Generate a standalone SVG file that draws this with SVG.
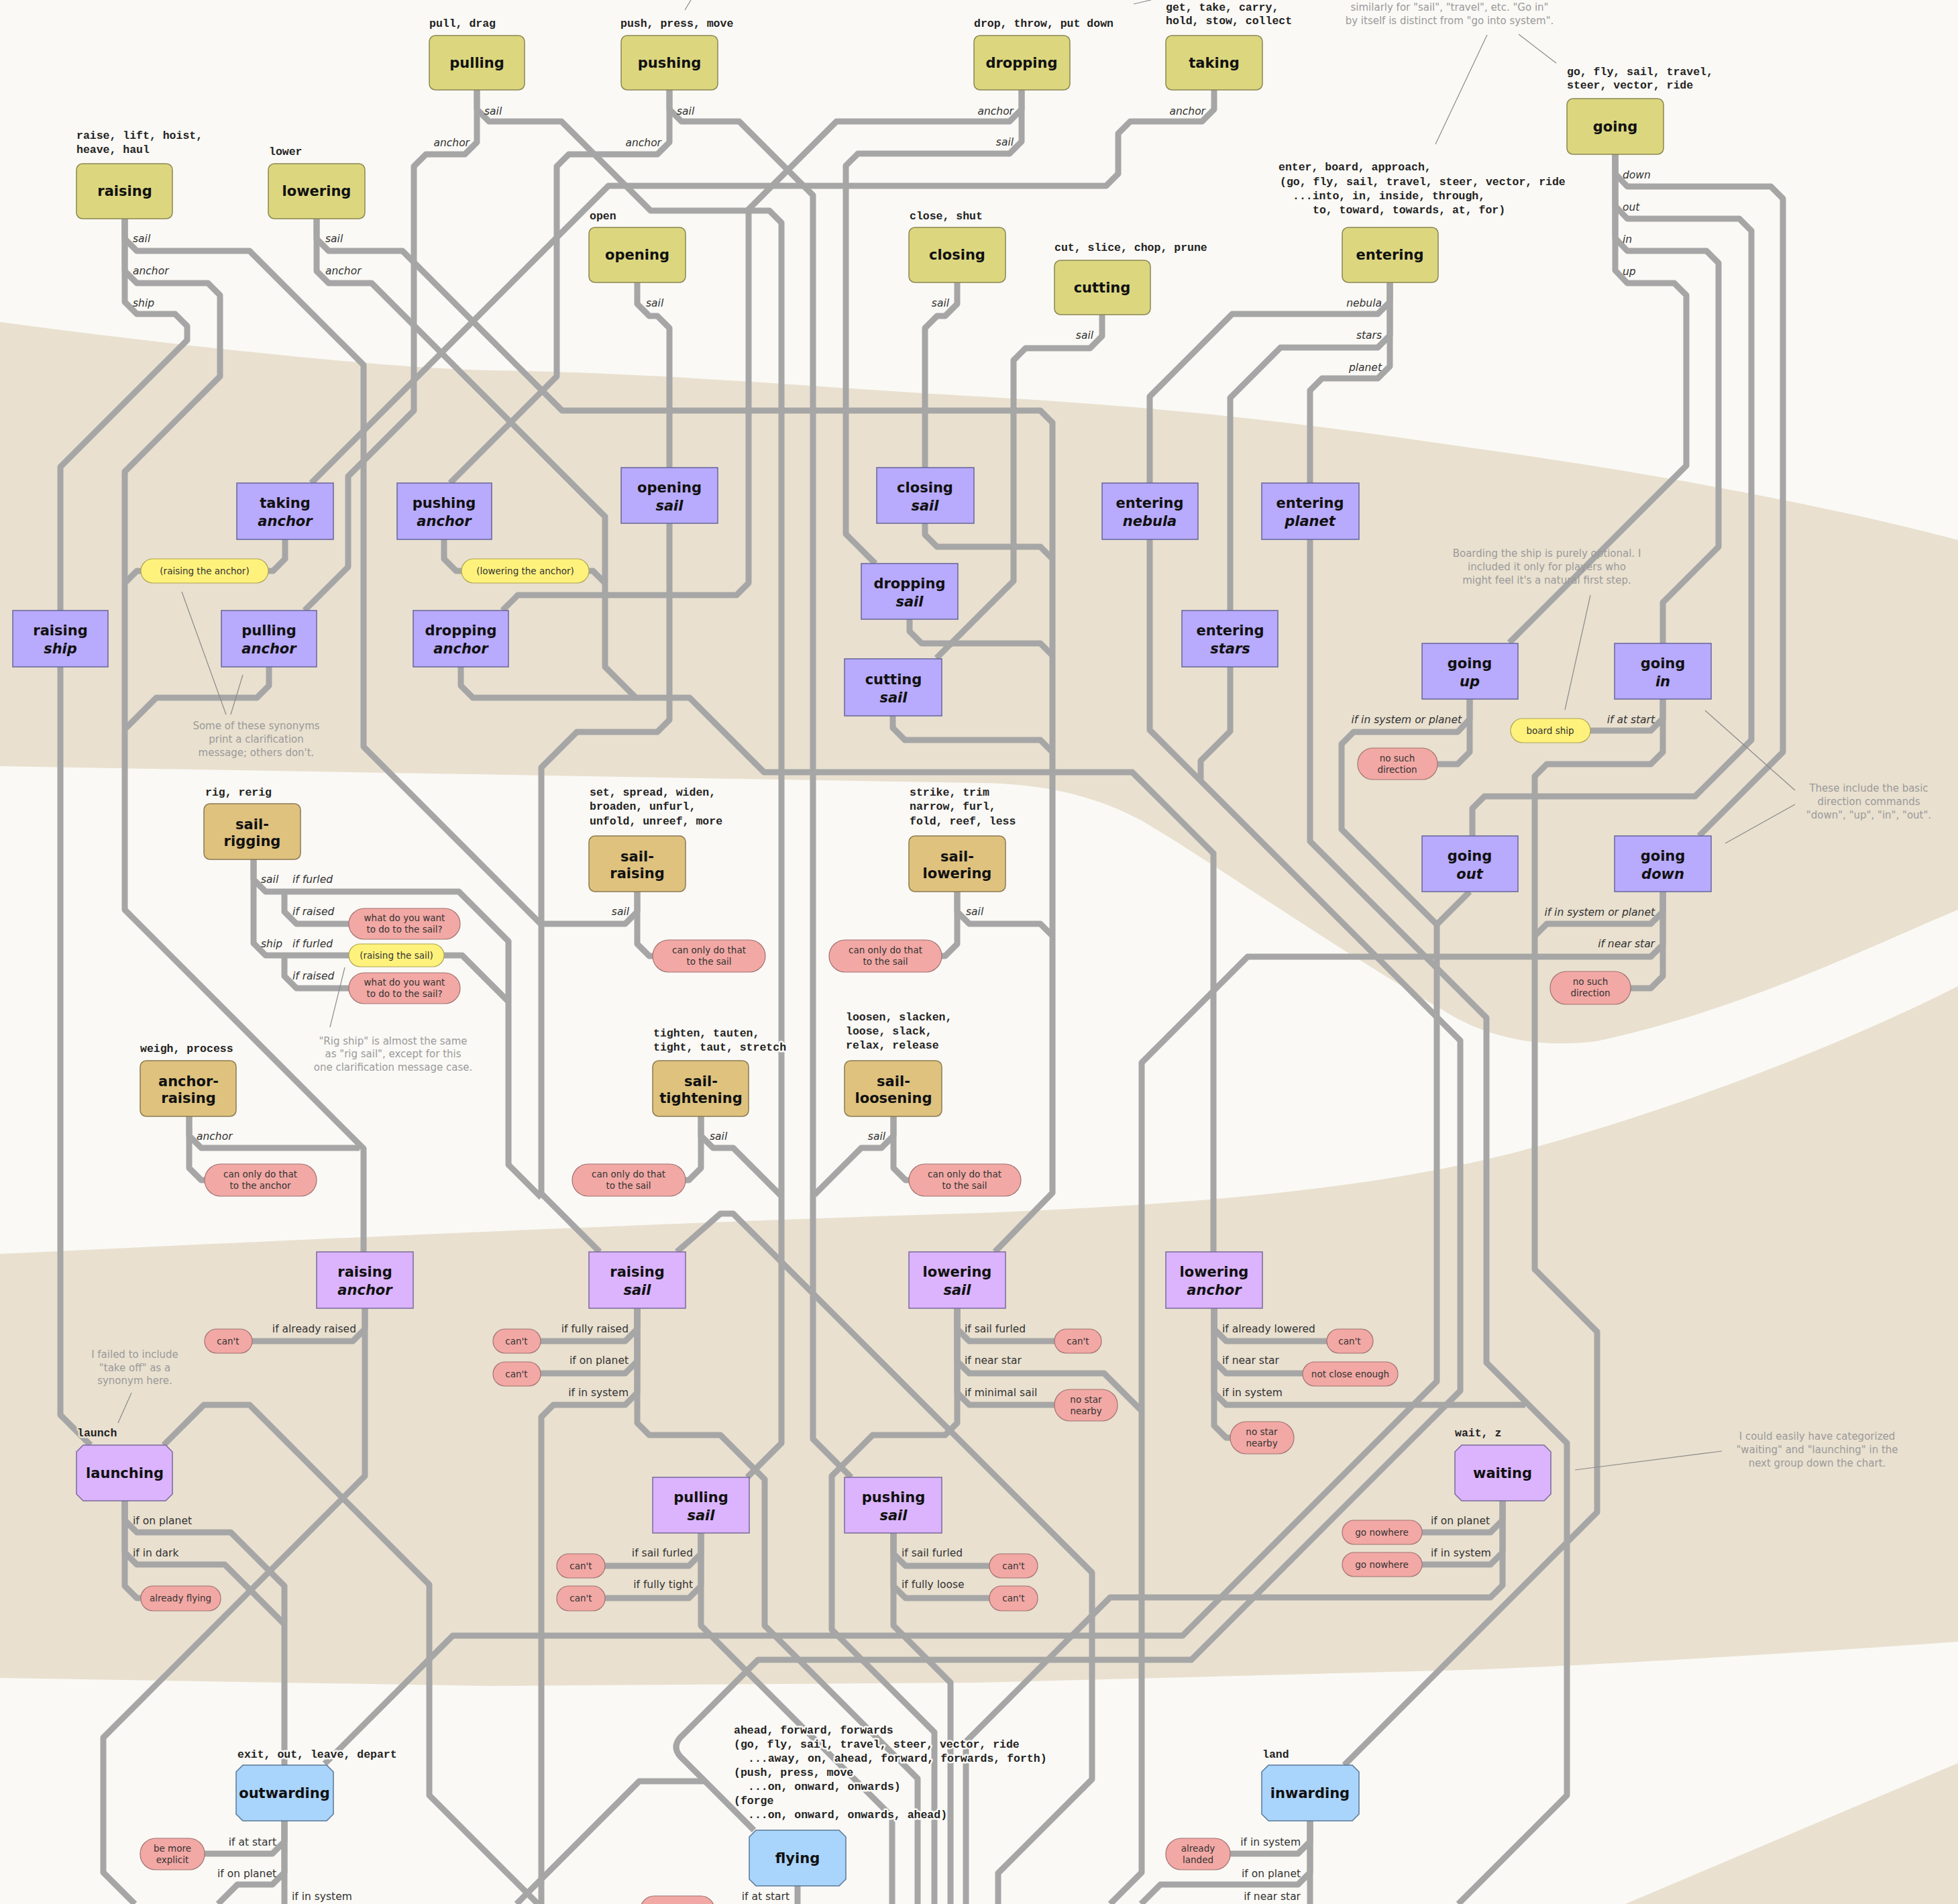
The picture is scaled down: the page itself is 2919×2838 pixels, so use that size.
<svg xmlns="http://www.w3.org/2000/svg" width="2919" height="2838" viewBox="0 0 2919 2838">
<style>
.ln{fill:none;stroke:#a6a6a6;stroke-width:9;stroke-linejoin:round}
.ld{fill:none;stroke:#8a8a8a;stroke-width:1.2}
.syn{fill:#dcd77f;stroke:#8a8752;stroke-width:1.5}
.tan{fill:#dec27e;stroke:#8c7a52;stroke-width:1.5}
.act{fill:#b8aafc;stroke:#66669a;stroke-width:1.5}
.act2{fill:#dbb4fd;stroke:#7a6a9a;stroke-width:1.5}
.blu{fill:#a9d4fc;stroke:#5a7896;stroke-width:1.5}
.red{fill:#f2a8a4;stroke:#a07272;stroke-width:1.2}
.yel{fill:#fff27c;stroke:#aea452;stroke-width:1.2}
.nt{font-family:"DejaVu Sans",sans-serif;font-weight:bold;font-size:21px;fill:#111;text-anchor:middle}
.it{font-style:italic}
.sy{font-family:"Liberation Mono",monospace;font-weight:bold;font-size:16.5px;fill:#222;stroke:#faf9f5;stroke-width:5;paint-order:stroke;stroke-linejoin:round}
.syt{stroke:#e9e0cf}
.bl{font-family:"DejaVu Sans",sans-serif;font-style:italic;font-size:15.5px;fill:#333}
.bu{font-family:"DejaVu Sans",sans-serif;font-size:15.5px;fill:#333}
.e{text-anchor:end}
.pt{font-family:"DejaVu Sans",sans-serif;font-size:13.5px;fill:#333;text-anchor:middle}
.no{font-family:"DejaVu Sans",sans-serif;font-size:15px;fill:#9a9a9a;text-anchor:middle}
</style>
<rect width="2919" height="2838" fill="#faf9f5"/>
<g id="background">
<path fill="#e9e0cf" d="M0,480 C300,520 600,550 730,552 C1000,556 1250,580 1460,591 C1800,610 2000,640 2190,667 C2500,710 2750,760 2919,805 L2919,1356 C2800,1405 2600,1505 2380,1552 C2300,1562 2220,1550 2150,1505 C2000,1420 1800,1280 1700,1222 C1620,1180 1540,1168 1460,1167 L0,1142 Z"/>
<path fill="#e9e0cf" d="M0,1869 C400,1850 1000,1822 1460,1808 C1800,1795 2050,1770 2250,1720 C2500,1655 2750,1555 2919,1470 L2919,2447 C2600,2470 2300,2485 2190,2489 L1460,2508 L730,2513 L0,2501 Z"/>
<path fill="#e9e0cf" d="M2423,2838 L2919,2628 L2919,2838 Z"/>
</g>
<g id="connectors">
<path class="ln" d="M186,326 V356 L204,374 H372 L542,544 V1113 L807,1378"/>
<path class="ln" d="M186,326 V404 L204,422 H310 L328,440 V561 L186,703 V1356 L542,1712 V1866"/>
<path class="ln" d="M186,326 V450 L204,468 H261 L279,486 V507 L90,696 V910"/>
<path class="ln" d="M90,994 V2109 L135,2154"/>
<path class="ln" d="M472,326 V356 L490,374 H600 L838,612 H1551 L1569,630 V1778 L1483,1866"/>
<path class="ln" d="M472,326 V404 L490,422 H554 L902,770 V994 L948,1040 H1028 L1139,1151 H1688 L1809,1272 V1866"/>
<path class="ln" d="M711,134 V163 L729,181 H837 L970,314 H1147 L1165,332 V2151 L1114,2202"/>
<path class="ln" d="M711,134 V212 L693,230 H635 L617,248 V612 L519,710 V845 L454,910"/>
<path class="ln" d="M998,134 V163 L1016,181 H1102 L1212,291 V2145 L1269,2202"/>
<path class="ln" d="M998,134 V212 L980,230 H848 L830,248 V561 L671,720"/>
<path class="ln" d="M1810,134 V163 L1792,181 H1685 L1667,199 V259 L1649,277 H907 L464,720"/>
<path class="ln" d="M1523,134 V163 L1505,181 H1247 L1116,312 V869 L1098,887 H772 L749,910"/>
<path class="ln" d="M1523,134 V211 L1505,229 H1279 L1261,247 V796 L1305,840"/>
<path class="ln" d="M950,421 V453 L968,471 H980 L998,489 V697"/>
<path class="ln" d="M998,780 V1073 L980,1091 H860 L807,1144 V1779 L894,1866"/>
<path class="ln" d="M1427,421 V453 L1409,471 H1397 L1379,489 V697"/>
<path class="ln" d="M1379,780 V797 L1397,815 H1551 L1569,833"/>
<path class="ln" d="M1356,923 V941 L1374,959 H1551 L1569,977"/>
<path class="ln" d="M1331,1067 V1085 L1349,1103 H1551 L1569,1121"/>
<path class="ln" d="M1643,469 V501 L1625,519 H1529 L1511,537 V866 L1396,981"/>
<path class="ln" d="M2072,421 V450 L2054,468 H1837 L1714,591 V720"/>
<path class="ln" d="M2072,421 V500 L2054,518 H1909 L1834,593 V910"/>
<path class="ln" d="M2072,421 V546 L2054,564 H1971 L1953,582 V720"/>
<path class="ln" d="M1714,804 V1088 L2177,1551 V2073 L1776,2474 H1130 L1014,2590 Q1002,2604 1014,2618 L1124,2728"/>
<path class="ln" d="M1051,2655 H953 L770,2838"/>
<path class="ln" d="M1834,994 V1090 L1790,1134 V1164"/>
<path class="ln" d="M1953,804 V1254 L2216,1517 V2031 L2336,2151 V2676 L2174,2838"/>
<path class="ln" d="M2408,230 V259 L2426,278 H2640 L2658,296 V1121 L2533,1246"/>
<path class="ln" d="M2408,230 V307 L2426,326 H2593 L2611,344 V1103 L2527,1187 H2213 L2195,1205 V1246"/>
<path class="ln" d="M2408,230 V355 L2426,374 H2544 L2562,392 V815 L2479,898 V959"/>
<path class="ln" d="M2408,230 V403 L2426,422 H2496 L2514,440 V694 L2250,958"/>
<path class="ln" d="M2191,1042 V1072 L2173,1091 H2018 L2000,1109 V1236 L2142,1378 V2059 L1763,2438 H675 L484,2629"/>
<path class="ln" d="M2191,1042 V1121 L2173,1139 H2143"/>
<path class="ln" d="M2191,1329 L2142,1378"/>
<path class="ln" d="M2479,1042 V1071 L2461,1089 H2371"/>
<path class="ln" d="M2479,1042 V1121 L2461,1139 H2306 L2288,1157 V1892 L2381,1985 V2254 L2004,2631"/>
<path class="ln" d="M2479,1329 V1359 L2461,1377 H2306 L2288,1395"/>
<path class="ln" d="M2479,1329 V1408 L2461,1426 H1860 L1702,1584 V2791 L1655,2838"/>
<path class="ln" d="M2479,1329 V1455 L2461,1473 H2431"/>
<path class="ln" d="M378,1281 V1311 L396,1329 H684 L758,1403 V1736 L807,1785"/>
<path class="ln" d="M424,1329 V1359 L442,1377 H520"/>
<path class="ln" d="M378,1281 V1406 L396,1424 H520"/>
<path class="ln" d="M424,1424 V1455 L442,1473 H520"/>
<path class="ln" d="M662,1424 H689 L758,1493"/>
<path class="ln" d="M282,1664 V1693 L300,1711 H536"/>
<path class="ln" d="M282,1664 V1741 L300,1759 H305"/>
<path class="ln" d="M950,1329 V1359 L932,1377 H807"/>
<path class="ln" d="M950,1329 V1407 L968,1425 H973"/>
<path class="ln" d="M1427,1329 V1359 L1445,1377 H1551 L1569,1395"/>
<path class="ln" d="M1427,1329 V1407 L1409,1425 H1404"/>
<path class="ln" d="M1045,1664 V1693 L1063,1711 H1093 L1165,1783"/>
<path class="ln" d="M1045,1664 V1741 L1027,1759 H1022"/>
<path class="ln" d="M1332,1664 V1693 L1314,1711 H1284 L1214,1781"/>
<path class="ln" d="M1332,1664 V1741 L1350,1759 H1355"/>
<path class="ln" d="M425,804 V833 L407,851 H400"/>
<path class="ln" d="M210,851 H204 L186,869"/>
<path class="ln" d="M662,804 V833 L680,851 H688"/>
<path class="ln" d="M878,851 H884 L902,869"/>
<path class="ln" d="M401,994 V1022 L383,1040 H233 L188,1085"/>
<path class="ln" d="M687,994 V1022 L705,1040 H948"/>
<path class="ln" d="M544,1950 V1981 L526,1999 H376"/>
<path class="ln" d="M544,1950 V2200 L154,2590 V2791 L201,2838"/>
<path class="ln" d="M950,1950 V1981 L932,1999 H806"/>
<path class="ln" d="M950,1950 V2029 L932,2047 H806"/>
<path class="ln" d="M950,1950 V2076 L932,2094 H825 L807,2112 V2838"/>
<path class="ln" d="M950,1950 V2121 L968,2139 H1074 L1140,2205 V2423 L1368,2651 V2838"/>
<path class="ln" d="M1427,1950 V1981 L1445,1999 H1572"/>
<path class="ln" d="M1427,1950 V2029 L1445,2047 H1646 L1702,2103"/>
<path class="ln" d="M1427,1950 V2076 L1445,2094 H1572"/>
<path class="ln" d="M1427,1950 V2121 L1409,2139 H1301 L1240,2200 V2429 L1393,2582 V2838"/>
<path class="ln" d="M1810,1950 V1981 L1828,1999 H1978"/>
<path class="ln" d="M1810,1950 V2029 L1828,2047 H1942"/>
<path class="ln" d="M1810,1950 V2076 L1828,2094 H2274"/>
<path class="ln" d="M1810,1950 V2125 L1828,2143 H1834"/>
<path class="ln" d="M1045,2285 V2316 L1027,2334 H902"/>
<path class="ln" d="M1045,2285 V2364 L1027,2382 H902"/>
<path class="ln" d="M1045,2285 V2423 L1330,2708 V2838"/>
<path class="ln" d="M1332,2285 V2316 L1350,2334 H1475"/>
<path class="ln" d="M1332,2285 V2364 L1350,2382 H1475"/>
<path class="ln" d="M1332,2285 V2423 L1417,2508 V2838"/>
<path class="ln" d="M1009,1866 L1074,1809 H1093 L1628,2344 V2652 L1488,2792 V2838"/>
<path class="ln" d="M2240,2237 V2266 L2222,2284 H2120"/>
<path class="ln" d="M2240,2237 V2314 L2222,2332 H2120"/>
<path class="ln" d="M2240,2237 V2363 L2222,2381 H1655 L1440,2596 V2838"/>
<path class="ln" d="M244,2154 L304,2094 H372 L640,2362 V2676 L802,2838"/>
<path class="ln" d="M186,2237 V2266 L204,2284 H344 L424,2364 V2631"/>
<path class="ln" d="M186,2237 V2314 L204,2332 H335 L424,2421"/>
<path class="ln" d="M186,2237 V2364 L204,2382 H210"/>
<path class="ln" d="M424,2714 V2745 L406,2763 H305"/>
<path class="ln" d="M424,2714 V2791 L406,2809 H354 L325,2838"/>
<path class="ln" d="M424,2714 V2838"/>
<path class="ln" d="M1953,2714 V2745 L1935,2763 H1834"/>
<path class="ln" d="M1953,2714 V2791 L1935,2809 H1730 L1701,2838"/>
<path class="ln" d="M1953,2714 V2838"/>
<path class="ln" d="M1189,2811 V2838"/>
</g>
<g id="leaders">
<path class="ld" d="M2217,52 L2140,215 M2264,51 L2320,94 M2371,887 L2333,1058 M271,882 L337,1065 M362,1006 L344,1065 M514,1442 L492,1531 M2542,1059 L2676,1178 M2676,1199 L2572,1257 M196,2076 L176,2121 M2567,2163 L2348,2191 M1030,0 L1021,15 M1716,0 L1690,6"/>
</g>
<g id="notes">
<text class="no"><tspan x="2161" y="16">similarly for "sail", "travel", etc. "Go in"</tspan><tspan x="2161" y="36">by itself is distinct from "go into system".</tspan></text>
<text class="no"><tspan x="2306" y="830">Boarding the ship is purely optional. I</tspan><tspan x="2306" y="850">included it only for players who</tspan><tspan x="2306" y="870">might feel it's a natural first step.</tspan></text>
<text class="no"><tspan x="382" y="1087">Some of these synonyms</tspan><tspan x="382" y="1107">print a clarification</tspan><tspan x="382" y="1127">message; others don't.</tspan></text>
<text class="no"><tspan x="586" y="1557">"Rig ship" is almost the same</tspan><tspan x="586" y="1576">as "rig sail", except for this</tspan><tspan x="586" y="1596">one clarification message case.</tspan></text>
<text class="no"><tspan x="2786" y="1180">These include the basic</tspan><tspan x="2786" y="1200">direction commands</tspan><tspan x="2786" y="1220">"down", "up", "in", "out".</tspan></text>
<text class="no"><tspan x="201" y="2024">I failed to include</tspan><tspan x="201" y="2044">"take off" as a</tspan><tspan x="201" y="2063">synonym here.</tspan></text>
<text class="no"><tspan x="2709" y="2146">I could easily have categorized</tspan><tspan x="2709" y="2166">"waiting" and "launching" in the</tspan><tspan x="2709" y="2186">next group down the chart.</tspan></text>
</g>
<g id="synonyms">
<text class="sy" x="640" y="40">pull, drag</text>
<text class="sy" x="925" y="40">push, press, move</text>
<text class="sy" x="1452" y="40">drop, throw, put down</text>
<text class="sy"><tspan x="1738" y="16">get, take, carry,</tspan><tspan x="1738" y="36">hold, stow, collect</tspan></text>
<text class="sy"><tspan x="114" y="207">raise, lift, hoist,</tspan><tspan x="114" y="228">heave, haul</tspan></text>
<text class="sy" x="401" y="231">lower</text>
<text class="sy" x="879" y="327">open</text>
<text class="sy" x="1356" y="327">close, shut</text>
<text class="sy" x="1572" y="374">cut, slice, chop, prune</text>
<text class="sy"><tspan x="1906" y="254">enter, board, approach,</tspan><tspan x="1908" y="276">(go, fly, sail, travel, steer, vector, ride</tspan><tspan x="1927" y="297">...into, in, inside, through,</tspan><tspan x="1957" y="318">to, toward, towards, at, for)</tspan></text>
<text class="sy"><tspan x="2336" y="112">go, fly, sail, travel,</tspan><tspan x="2336" y="132">steer, vector, ride</tspan></text>
<text class="sy" x="306" y="1186">rig, rerig</text>
<text class="sy" x="209" y="1568">weigh, process</text>
<text class="sy"><tspan x="879" y="1186">set, spread, widen,</tspan><tspan x="879" y="1207">broaden, unfurl,</tspan><tspan x="879" y="1229">unfold, unreef, more</tspan></text>
<text class="sy"><tspan x="1356" y="1186">strike, trim</tspan><tspan x="1356" y="1207">narrow, furl,</tspan><tspan x="1356" y="1229">fold, reef, less</tspan></text>
<text class="sy"><tspan x="974" y="1545">tighten, tauten,</tspan><tspan x="974" y="1566">tight, taut, stretch</tspan></text>
<text class="sy"><tspan x="1261" y="1521">loosen, slacken,</tspan><tspan x="1261" y="1542">loose, slack,</tspan><tspan x="1261" y="1563">relax, release</tspan></text>
<text class="sy syt" x="115" y="2141">launch</text>
<text class="sy syt" x="2169" y="2141">wait, z</text>
<text class="sy" x="354" y="2620">exit, out, leave, depart</text>
<text class="sy" x="1882" y="2620">land</text>
<text class="sy"><tspan x="1094" y="2584">ahead, forward, forwards</tspan><tspan x="1094" y="2605">(go, fly, sail, travel, steer, vector, ride</tspan><tspan x="1115" y="2626">...away, on, ahead, forward, forwards, forth)</tspan><tspan x="1094" y="2647">(push, press, move</tspan><tspan x="1115" y="2668">...on, onward, onwards)</tspan><tspan x="1094" y="2689">(forge</tspan><tspan x="1115" y="2710">...on, onward, onwards, ahead)</tspan></text>
</g>
<g id="branch-labels">
<text class="bl" x="198" y="361">sail</text><text class="bl" x="198" y="409">anchor</text><text class="bl" x="198" y="457">ship</text>
<text class="bl" x="485" y="361">sail</text><text class="bl" x="485" y="409">anchor</text>
<text class="bl" x="722" y="171">sail</text><text class="bl e" x="700" y="218">anchor</text>
<text class="bl" x="1009" y="171">sail</text><text class="bl e" x="986" y="218">anchor</text>
<text class="bl e" x="1511" y="171">anchor</text><text class="bl e" x="1511" y="217">sail</text>
<text class="bl e" x="1797" y="171">anchor</text>
<text class="bl" x="963" y="457">sail</text>
<text class="bl e" x="1415" y="457">sail</text>
<text class="bl e" x="1630" y="505">sail</text>
<text class="bl e" x="2060" y="457">nebula</text><text class="bl e" x="2060" y="505">stars</text><text class="bl e" x="2060" y="553">planet</text>
<text class="bl" x="2419" y="266">down</text><text class="bl" x="2419" y="314">out</text><text class="bl" x="2419" y="362">in</text><text class="bl" x="2419" y="410">up</text>
<text class="bl" x="389" y="1316">sail</text><text class="bl" x="436" y="1316">if furled</text><text class="bl" x="436" y="1364">if raised</text>
<text class="bl" x="389" y="1412">ship</text><text class="bl" x="436" y="1412">if furled</text><text class="bl" x="436" y="1460">if raised</text>
<text class="bl" x="293" y="1699">anchor</text>
<text class="bl e" x="938" y="1364">sail</text>
<text class="bl" x="1440" y="1364">sail</text>
<text class="bl" x="1058" y="1699">sail</text>
<text class="bl e" x="1320" y="1699">sail</text>
<text class="bl e" x="2179" y="1078">if in system or planet</text>
<text class="bl e" x="2467" y="1078">if at start</text>
<text class="bl e" x="2467" y="1365">if in system or planet</text>
<text class="bl e" x="2467" y="1412">if near star</text>
<text class="bu e" x="531" y="1986">if already raised</text>
<text class="bu e" x="937" y="1986">if fully raised</text><text class="bu e" x="937" y="2033">if on planet</text><text class="bu e" x="937" y="2081">if in system</text>
<text class="bu" x="1438" y="1986">if sail furled</text><text class="bu" x="1438" y="2033">if near star</text><text class="bu" x="1438" y="2081">if minimal sail</text>
<text class="bu" x="1822" y="1986">if already lowered</text><text class="bu" x="1822" y="2033">if near star</text><text class="bu" x="1822" y="2081">if in system</text>
<text class="bu e" x="1033" y="2320">if sail furled</text><text class="bu e" x="1033" y="2367">if fully tight</text>
<text class="bu" x="1344" y="2320">if sail furled</text><text class="bu" x="1344" y="2367">if fully loose</text>
<text class="bu" x="198" y="2272">if on planet</text><text class="bu" x="198" y="2320">if in dark</text>
<text class="bu" x="2133" y="2272">if on planet</text><text class="bu" x="2133" y="2320">if in system</text>
<text class="bu e" x="412" y="2751">if at start</text><text class="bu e" x="412" y="2798">if on planet</text><text class="bu" x="435" y="2832">if in system</text>
<text class="bu e" x="1939" y="2751">if in system</text><text class="bu e" x="1939" y="2798">if on planet</text><text class="bu e" x="1939" y="2832">if near star</text>
<text class="bu e" x="1177" y="2832">if at start</text>
</g>
<g id="pills">
<g id="p-raising-anchor-clar"><rect class="yel" x="210" y="833" width="190" height="36" rx="18"/><text class="pt" x="305" y="856">(raising the anchor)</text></g>
<g id="p-lowering-anchor-clar"><rect class="yel" x="688" y="833" width="190" height="36" rx="18"/><text class="pt" x="783" y="856">(lowering the anchor)</text></g>
<g id="p-rig-what1"><rect class="red" x="520" y="1354" width="166" height="46" rx="23"/><text class="pt"><tspan x="603" y="1373">what do you want</tspan><tspan x="603" y="1390">to do to the sail?</tspan></text></g>
<g id="p-rig-clar"><rect class="yel" x="520" y="1407" width="142" height="34" rx="17"/><text class="pt" x="591" y="1429">(raising the sail)</text></g>
<g id="p-rig-what2"><rect class="red" x="520" y="1450" width="166" height="46" rx="23"/><text class="pt"><tspan x="603" y="1469">what do you want</tspan><tspan x="603" y="1486">to do to the sail?</tspan></text></g>
<g id="p-ar"><rect class="red" x="305" y="1735" width="167" height="48" rx="24"/><text class="pt"><tspan x="388" y="1755">can only do that</tspan><tspan x="388" y="1772">to the anchor</tspan></text></g>
<g id="p-sr"><rect class="red" x="973" y="1401" width="168" height="48" rx="24"/><text class="pt"><tspan x="1057" y="1421">can only do that</tspan><tspan x="1057" y="1438">to the sail</tspan></text></g>
<g id="p-sl"><rect class="red" x="1236" y="1401" width="168" height="48" rx="24"/><text class="pt"><tspan x="1320" y="1421">can only do that</tspan><tspan x="1320" y="1438">to the sail</tspan></text></g>
<g id="p-st"><rect class="red" x="853" y="1735" width="169" height="48" rx="24"/><text class="pt"><tspan x="937" y="1755">can only do that</tspan><tspan x="937" y="1772">to the sail</tspan></text></g>
<g id="p-slo"><rect class="red" x="1355" y="1735" width="167" height="48" rx="24"/><text class="pt"><tspan x="1438" y="1755">can only do that</tspan><tspan x="1438" y="1772">to the sail</tspan></text></g>
<g id="p-up"><rect class="red" x="2024" y="1115" width="119" height="47" rx="23"/><text class="pt"><tspan x="2083" y="1135">no such</tspan><tspan x="2083" y="1152">direction</tspan></text></g>
<g id="p-board"><rect class="yel" x="2252" y="1071" width="119" height="36" rx="18"/><text class="pt" x="2311" y="1094">board ship</text></g>
<g id="p-down"><rect class="red" x="2311" y="1448" width="120" height="49" rx="24"/><text class="pt"><tspan x="2371" y="1468">no such</tspan><tspan x="2371" y="1485">direction</tspan></text></g>
<g id="p-ra"><rect class="red" x="305" y="1981" width="71" height="36" rx="18"/><text class="pt" x="340" y="2004">can't</text></g>
<g id="p-fly"><rect class="red" x="210" y="2364" width="119" height="37" rx="18"/><text class="pt" x="269" y="2387">already flying</text></g>
<g id="p-expl"><rect class="red" x="209" y="2740" width="96" height="47" rx="23"/><text class="pt"><tspan x="257" y="2760">be more</tspan><tspan x="257" y="2777">explicit</tspan></text></g>
<g id="p-rs1"><rect class="red" x="735" y="1981" width="71" height="36" rx="18"/><text class="pt" x="770" y="2004">can't</text></g>
<g id="p-rs2"><rect class="red" x="735" y="2030" width="71" height="36" rx="18"/><text class="pt" x="770" y="2053">can't</text></g>
<g id="p-ps1"><rect class="red" x="830" y="2316" width="72" height="36" rx="18"/><text class="pt" x="866" y="2339">can't</text></g>
<g id="p-ps2"><rect class="red" x="830" y="2364" width="72" height="37" rx="18"/><text class="pt" x="866" y="2387">can't</text></g>
<g id="p-pu1"><rect class="red" x="1475" y="2316" width="72" height="36" rx="18"/><text class="pt" x="1511" y="2339">can't</text></g>
<g id="p-pu2"><rect class="red" x="1475" y="2364" width="72" height="37" rx="18"/><text class="pt" x="1511" y="2387">can't</text></g>
<g id="p-ls1"><rect class="red" x="1572" y="1981" width="70" height="36" rx="18"/><text class="pt" x="1607" y="2004">can't</text></g>
<g id="p-ls2"><rect class="red" x="1572" y="2071" width="94" height="47" rx="23"/><text class="pt"><tspan x="1619" y="2091">no star</tspan><tspan x="1619" y="2108">nearby</tspan></text></g>
<g id="p-la1"><rect class="red" x="1978" y="1981" width="69" height="36" rx="18"/><text class="pt" x="2012" y="2004">can't</text></g>
<g id="p-la2"><rect class="red" x="1942" y="2030" width="142" height="36" rx="18"/><text class="pt" x="2013" y="2053">not close enough</text></g>
<g id="p-la3"><rect class="red" x="1834" y="2119" width="95" height="48" rx="24"/><text class="pt"><tspan x="1881" y="2139">no star</tspan><tspan x="1881" y="2156">nearby</tspan></text></g>
<g id="p-w1"><rect class="red" x="2001" y="2266" width="119" height="36" rx="18"/><text class="pt" x="2060" y="2289">go nowhere</text></g>
<g id="p-w2"><rect class="red" x="2001" y="2314" width="119" height="36" rx="18"/><text class="pt" x="2060" y="2337">go nowhere</text></g>
<g id="p-land"><rect class="red" x="1738" y="2740" width="96" height="47" rx="23"/><text class="pt"><tspan x="1786" y="2760">already</tspan><tspan x="1786" y="2777">landed</tspan></text></g>
<g id="p-flyb"><rect class="red" x="955" y="2826" width="110" height="40" rx="20"/></g>
</g>
<g id="n-raising"><rect class="syn" x="114" y="244" width="143" height="82" rx="9"/><text class="nt" x="186" y="292">raising</text></g>
<g id="n-lowering"><rect class="syn" x="400" y="244" width="144" height="82" rx="9"/><text class="nt" x="472" y="292">lowering</text></g>
<g id="n-pulling"><rect class="syn" x="640" y="53" width="142" height="81" rx="9"/><text class="nt" x="711" y="101">pulling</text></g>
<g id="n-pushing"><rect class="syn" x="926" y="53" width="144" height="81" rx="9"/><text class="nt" x="998" y="101">pushing</text></g>
<g id="n-opening"><rect class="syn" x="878" y="339" width="144" height="82" rx="9"/><text class="nt" x="950" y="387">opening</text></g>
<g id="n-closing"><rect class="syn" x="1355" y="339" width="144" height="82" rx="9"/><text class="nt" x="1427" y="387">closing</text></g>
<g id="n-dropping"><rect class="syn" x="1452" y="53" width="143" height="81" rx="9"/><text class="nt" x="1523" y="101">dropping</text></g>
<g id="n-taking"><rect class="syn" x="1738" y="53" width="144" height="81" rx="9"/><text class="nt" x="1810" y="101">taking</text></g>
<g id="n-cutting"><rect class="syn" x="1572" y="388" width="143" height="81" rx="9"/><text class="nt" x="1643" y="436">cutting</text></g>
<g id="n-entering"><rect class="syn" x="2001" y="339" width="143" height="82" rx="9"/><text class="nt" x="2072" y="387">entering</text></g>
<g id="n-going"><rect class="syn" x="2336" y="147" width="144" height="83" rx="9"/><text class="nt" x="2408" y="196">going</text></g>
<g id="n-sail-rigging"><rect class="tan" x="304" y="1198" width="144" height="83" rx="9"/><text class="nt"><tspan x="376" y="1236">sail-</tspan><tspan x="376" y="1261">rigging</tspan></text></g>
<g id="n-anchor-raising"><rect class="tan" x="209" y="1581" width="143" height="83" rx="9"/><text class="nt"><tspan x="281" y="1619">anchor-</tspan><tspan x="281" y="1644">raising</tspan></text></g>
<g id="n-sail-raising"><rect class="tan" x="878" y="1246" width="144" height="83" rx="9"/><text class="nt"><tspan x="950" y="1284">sail-</tspan><tspan x="950" y="1309">raising</tspan></text></g>
<g id="n-sail-lowering"><rect class="tan" x="1355" y="1246" width="144" height="83" rx="9"/><text class="nt"><tspan x="1427" y="1284">sail-</tspan><tspan x="1427" y="1309">lowering</tspan></text></g>
<g id="n-sail-tightening"><rect class="tan" x="973" y="1581" width="143" height="83" rx="9"/><text class="nt"><tspan x="1045" y="1619">sail-</tspan><tspan x="1045" y="1644">tightening</tspan></text></g>
<g id="n-sail-loosening"><rect class="tan" x="1259" y="1581" width="145" height="83" rx="9"/><text class="nt"><tspan x="1332" y="1619">sail-</tspan><tspan x="1332" y="1644">loosening</tspan></text></g>
<g id="n-taking-anchor"><rect class="act" x="353" y="720" width="144" height="84"/><text class="nt"><tspan x="425" y="757">taking</tspan><tspan x="425" y="784" class="it">anchor</tspan></text></g>
<g id="n-pushing-anchor"><rect class="act" x="592" y="720" width="141" height="84"/><text class="nt"><tspan x="662" y="757">pushing</tspan><tspan x="662" y="784" class="it">anchor</tspan></text></g>
<g id="n-raising-ship"><rect class="act" x="19" y="910" width="142" height="84"/><text class="nt"><tspan x="90" y="947">raising</tspan><tspan x="90" y="974" class="it">ship</tspan></text></g>
<g id="n-pulling-anchor"><rect class="act" x="330" y="910" width="142" height="84"/><text class="nt"><tspan x="401" y="947">pulling</tspan><tspan x="401" y="974" class="it">anchor</tspan></text></g>
<g id="n-dropping-anchor"><rect class="act" x="616" y="910" width="142" height="84"/><text class="nt"><tspan x="687" y="947">dropping</tspan><tspan x="687" y="974" class="it">anchor</tspan></text></g>
<g id="n-opening-sail"><rect class="act" x="926" y="697" width="144" height="83"/><text class="nt"><tspan x="998" y="734">opening</tspan><tspan x="998" y="761" class="it">sail</tspan></text></g>
<g id="n-closing-sail"><rect class="act" x="1307" y="697" width="145" height="83"/><text class="nt"><tspan x="1379" y="734">closing</tspan><tspan x="1379" y="761" class="it">sail</tspan></text></g>
<g id="n-dropping-sail"><rect class="act" x="1284" y="840" width="144" height="83"/><text class="nt"><tspan x="1356" y="877">dropping</tspan><tspan x="1356" y="904" class="it">sail</tspan></text></g>
<g id="n-cutting-sail"><rect class="act" x="1259" y="982" width="145" height="85"/><text class="nt"><tspan x="1332" y="1020">cutting</tspan><tspan x="1332" y="1047" class="it">sail</tspan></text></g>
<g id="n-entering-nebula"><rect class="act" x="1643" y="720" width="143" height="84"/><text class="nt"><tspan x="1714" y="757">entering</tspan><tspan x="1714" y="784" class="it">nebula</tspan></text></g>
<g id="n-entering-planet"><rect class="act" x="1881" y="720" width="145" height="84"/><text class="nt"><tspan x="1953" y="757">entering</tspan><tspan x="1953" y="784" class="it">planet</tspan></text></g>
<g id="n-entering-stars"><rect class="act" x="1762" y="910" width="143" height="84"/><text class="nt"><tspan x="1834" y="947">entering</tspan><tspan x="1834" y="974" class="it">stars</tspan></text></g>
<g id="n-going-up"><rect class="act" x="2120" y="959" width="143" height="83"/><text class="nt"><tspan x="2191" y="996">going</tspan><tspan x="2191" y="1023" class="it">up</tspan></text></g>
<g id="n-going-in"><rect class="act" x="2407" y="959" width="144" height="83"/><text class="nt"><tspan x="2479" y="996">going</tspan><tspan x="2479" y="1023" class="it">in</tspan></text></g>
<g id="n-going-out"><rect class="act" x="2120" y="1246" width="143" height="83"/><text class="nt"><tspan x="2191" y="1283">going</tspan><tspan x="2191" y="1310" class="it">out</tspan></text></g>
<g id="n-going-down"><rect class="act" x="2407" y="1246" width="144" height="83"/><text class="nt"><tspan x="2479" y="1283">going</tspan><tspan x="2479" y="1310" class="it">down</tspan></text></g>
<g id="n-raising-anchor"><rect class="act2" x="472" y="1866" width="144" height="84"/><text class="nt"><tspan x="544" y="1903">raising</tspan><tspan x="544" y="1930" class="it">anchor</tspan></text></g>
<g id="n-raising-sail"><rect class="act2" x="878" y="1866" width="144" height="84"/><text class="nt"><tspan x="950" y="1903">raising</tspan><tspan x="950" y="1930" class="it">sail</tspan></text></g>
<g id="n-lowering-sail"><rect class="act2" x="1355" y="1866" width="144" height="84"/><text class="nt"><tspan x="1427" y="1903">lowering</tspan><tspan x="1427" y="1930" class="it">sail</tspan></text></g>
<g id="n-lowering-anchor"><rect class="act2" x="1738" y="1866" width="144" height="84"/><text class="nt"><tspan x="1810" y="1903">lowering</tspan><tspan x="1810" y="1930" class="it">anchor</tspan></text></g>
<g id="n-pulling-sail"><rect class="act2" x="973" y="2202" width="144" height="83"/><text class="nt"><tspan x="1045" y="2239">pulling</tspan><tspan x="1045" y="2266" class="it">sail</tspan></text></g>
<g id="n-pushing-sail"><rect class="act2" x="1259" y="2202" width="145" height="83"/><text class="nt"><tspan x="1332" y="2239">pushing</tspan><tspan x="1332" y="2266" class="it">sail</tspan></text></g>
<g id="n-launching"><polygon class="act2" points="124,2154 247,2154 257,2164 257,2227 247,2237 124,2237 114,2227 114,2164"/><text class="nt" x="186" y="2203">launching</text></g>
<g id="n-waiting"><polygon class="act2" points="2179,2154 2302,2154 2312,2164 2312,2227 2302,2237 2179,2237 2169,2227 2169,2164"/><text class="nt" x="2240" y="2203">waiting</text></g>
<g id="n-outwarding"><polygon class="blu" points="362,2631 487,2631 497,2641 497,2704 487,2714 362,2714 352,2704 352,2641"/><text class="nt" x="424" y="2680">outwarding</text></g>
<g id="n-inwarding"><polygon class="blu" points="1891,2631 2016,2631 2026,2641 2026,2704 2016,2714 1891,2714 1881,2704 1881,2641"/><text class="nt" x="1953" y="2680">inwarding</text></g>
<g id="n-flying"><polygon class="blu" points="1127,2728 1251,2728 1261,2738 1261,2801 1251,2811 1127,2811 1117,2801 1117,2738"/><text class="nt" x="1189" y="2777">flying</text></g>
</svg>
